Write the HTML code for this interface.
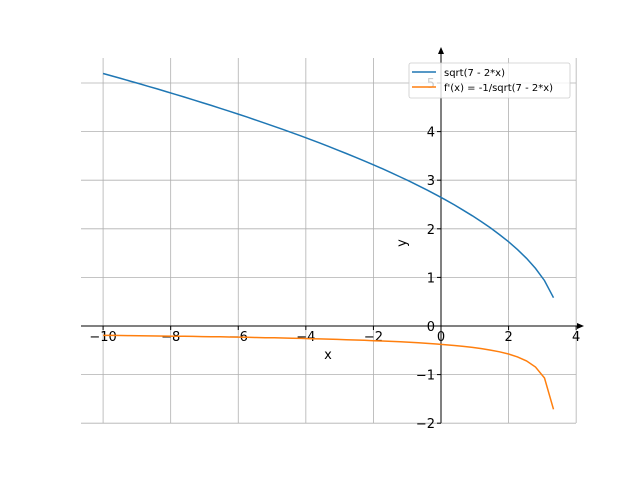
<!DOCTYPE html><html><head><style>body{margin:0;background:#fff}svg{display:block;font-family:"DejaVu Sans","Liberation Sans",sans-serif}</style></head><body>
<svg id="s" width="640" height="480" xmlns="http://www.w3.org/2000/svg"></svg>
<script>
const s=document.getElementById('s');
const X=x=>441+33.79*x, Y=y=>326-48.6*y;
let h='';
for(let x=-10;x<=4;x+=2)h+=`<line x1="${X(x)}" y1="58" x2="${X(x)}" y2="423" stroke="#b0b0b0" stroke-width="0.8"/>`;
for(let y=-2;y<=5;y++)h+=`<line x1="81" y1="${Y(y)}" x2="576" y2="${Y(y)}" stroke="#b0b0b0" stroke-width="0.8"/>`;
h+=`<line x1="441" y1="423" x2="441" y2="50" stroke="#000" stroke-width="1"/><polygon points="441,47 438,54 444,54" fill="#000"/>`;
h+=`<line x1="81" y1="326" x2="580" y2="326" stroke="#000" stroke-width="1"/><polygon points="584,326 577,323 577,329" fill="#000"/>`;
for(let x=-10;x<=4;x+=2){h+=`<line x1="${X(x)}" y1="326" x2="${X(x)}" y2="330" stroke="#000"/><text x="${X(x)}" y="341" font-size="13" text-anchor="middle">${x<0?'\u2212'+(-x):x}</text>`;}
for(let y=-2;y<=5;y++){h+=`<line x1="437" y1="${Y(y)}" x2="441" y2="${Y(y)}" stroke="#000"/><text x="435" y="${Y(y)+5}" font-size="13" text-anchor="end">${y<0?'\u2212'+(-y):y}</text>`;}
let a=[],b=[];
for(let i=0;i<=50;i++){let x=-10+13.33*i/50;let v=Math.sqrt(7-2*x);a.push(X(x).toFixed(1)+','+Y(v).toFixed(1));b.push(X(x).toFixed(1)+','+Y(-1/v).toFixed(1));}
h+=`<polyline points="${a.join(' ')}" fill="none" stroke="#1f77b4" stroke-width="1.5"/>`;
h+=`<polyline points="${b.join(' ')}" fill="none" stroke="#ff7f0e" stroke-width="1.5"/>`;
h+=`<text x="328" y="359" font-size="13" text-anchor="middle">x</text>`;
h+=`<text x="406" y="243" font-size="13" text-anchor="middle" transform="rotate(-90 406 243)">y</text>`;
h+=`<rect x="409" y="63" width="161" height="35" rx="2" fill="#fff" fill-opacity="0.8" stroke="#ccc" stroke-width="0.8"/>`;
h+=`<line x1="412" y1="72" x2="436" y2="72" stroke="#1f77b4" stroke-width="1.5"/><text x="444" y="76" font-size="10">sqrt(7 - 2*x)</text>`;
h+=`<line x1="412" y1="87" x2="436" y2="87" stroke="#ff7f0e" stroke-width="1.5"/><text x="444" y="91" font-size="10">f'(x) = -1/sqrt(7 - 2*x)</text>`;
s.innerHTML=h;
</script></body></html>
